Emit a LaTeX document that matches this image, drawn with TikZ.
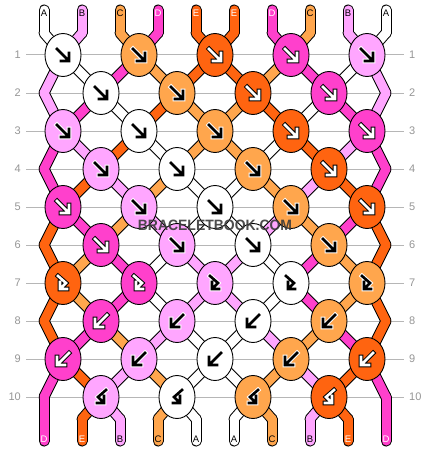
\documentclass[tikz,border=0pt]{standalone}
\usepackage{fontspec}
\setmainfont{Liberation Sans}
\usetikzlibrary{shapes.geometric}
\definecolor{stA}{RGB}{255,255,255}
\definecolor{stB}{RGB}{255,166,255}
\definecolor{stC}{RGB}{255,166,77}
\definecolor{stD}{RGB}{255,64,204}
\definecolor{stE}{RGB}{255,100,16}
\colorlet{giA}{black}\colorlet{giB}{black}\colorlet{giC}{black}\colorlet{giD}{white}\colorlet{giE}{white}
\colorlet{goA}{white}\colorlet{goB}{white}\colorlet{goC}{white}\colorlet{goD}{black}\colorlet{goE}{black}
\definecolor{rowgray}{RGB}{182,182,182}
\definecolor{labgray}{RGB}{150,150,150}
\definecolor{wmgray}{RGB}{58,58,58}
% one strand segment: #1 pass (0 outline, 1 colour), #2 colour letter, #3 from, #4 to
\newcommand\seg[4]{\ifnum#1=0\relax
  \draw[line width=11pt,draw=black,line cap=round,line join=round] (#3) -- (#4);%
  \else
  \draw[line width=9pt,draw=st#2,line cap=round,line join=round] (#3) -- (#4);%
  \fi}
% segments leaving row #2 towards row #2+1
\newcommand\srow[3]{\foreach \c [count=\p from 0] in {#3} {%
  \pgfmathtruncatemacro\nr{#2+1}\seg{#1}{\c}{q-#2-\p}{q-\nr-\p}}}
% coordinates of a row
\newcommand\qrow[3]{\foreach \xx [count=\p from 0] in {#3} {\coordinate (q-#1-\p) at (\xx,#2);}}
% knots: #1 row, #2 first x, #3 y, #4 colours, #5 glyph pic
\newcommand\krow[5]{\foreach \c [count=\j from 0] in {#4} {%
  \pgfmathsetmacro\kx{#2+76*\j}%
  \node[knot,fill=st\c] (k-#1-\j) at (\kx,#3) {};%
  \def\gI{gi\c}\def\gO{go\c}%
  \pic at (k-#1-\j) {#5};}}
\tikzset{
  glo/.style={line width=4.6pt,draw=\gO,line cap=rect,line join=miter},
  gli/.style={line width=2.6pt,draw=\gI,line cap=rect,line join=miter},
  pics/gf/.style={code={
    \draw[glo] (-6,-6)--(5,5) (6,-2)--(6,6)--(-2,6);
    \draw[gli] (-6,-6)--(5,5) (6,-2)--(6,6)--(-2,6);}},
  pics/gb/.style={code={
    \draw[glo] (6,-6)--(-5,5) (-6,-2)--(-6,6)--(2,6);
    \draw[gli] (6,-6)--(-5,5) (-6,-2)--(-6,6)--(2,6);}},
  pics/gfb/.style={code={
    \draw[glo] (-5,-7)--(3,0)--(-2,5) (-3,-1)--(-3,6)--(4,6);
    \draw[gli] (-5,-7)--(3,0)--(-2,5) (-3,-1)--(-3,6)--(4,6);}},
  pics/gbf/.style={code={
    \draw[glo] (5,-7)--(-3,0)--(2,5) (3,-1)--(3,6)--(-4,6);
    \draw[gli] (5,-7)--(-3,0)--(2,5) (3,-1)--(3,6)--(-4,6);}},
}
\begin{document}
\begin{tikzpicture}[x=1pt,y=-1pt,
  knot/.style={ellipse,draw=black,line width=0.9pt,minimum width=36pt,minimum height=43pt,inner sep=0pt},
  rowline/.style={draw=rowgray,line width=1pt},
  rowlab/.style={text=labgray,font=\fontsize{11}{11}\selectfont,inner sep=0pt},
  stublab/.style={font=\fontsize{9.5}{9.5}\selectfont,inner sep=0pt},
  wm/.style={font=\fontsize{15}{15}\selectfont\bfseries,inner sep=0pt}]
\useasboundingbox (0,0) rectangle (430,452);
\fill[white] (0,0) rectangle (430,452);
% row guide lines and numbers
\foreach \r in {1,...,10} {
  \pgfmathsetmacro\ry{55+38*(\r-1)}
  \draw[rowline] (26,\ry) -- (404,\ry);
  \node[rowlab,anchor=east] (rl-\r) at (21,\ry) {\r};
  \node[rowlab,anchor=west] (rr-\r) at (409,\ry) {\r};
}
% strand coordinates
\foreach \p in {0,...,9} {
  \pgfmathsetmacro\sx{44+38*\p}
  \coordinate (t-\p) at (\sx,10);
  \coordinate (q-0-\p) at (\sx,33);
  \coordinate (q-11-\p) at (\sx,419);
  \coordinate (b-\p) at (\sx,441);
}
\qrow{1}{55}{63,63,139,139,215,215,291,291,367,367}
\qrow{2}{93}{44,101,101,177,177,253,253,329,329,386}
\qrow{3}{131}{63,63,139,139,215,215,291,291,367,367}
\qrow{4}{169}{44,101,101,177,177,253,253,329,329,386}
\qrow{5}{207}{63,63,139,139,215,215,291,291,367,367}
\qrow{6}{245}{44,101,101,177,177,253,253,329,329,386}
\qrow{7}{283}{63,63,139,139,215,215,291,291,367,367}
\qrow{8}{321}{44,101,101,177,177,253,253,329,329,386}
\qrow{9}{359}{63,63,139,139,215,215,291,291,367,367}
\qrow{10}{397}{44,101,101,177,177,253,253,329,329,386}
% strands
\foreach \pass in {0,1} {
  \foreach \c [count=\p from 0] in {A,B,C,D,E,E,D,C,B,A} {\seg{\pass}{\c}{t-\p}{q-0-\p}}
  \srow{\pass}{0}{A,B,C,D,E,E,D,C,B,A}
  \srow{\pass}{1}{B,A,D,C,E,E,C,D,A,B}
  \srow{\pass}{2}{B,D,A,E,C,C,E,A,D,B}
  \srow{\pass}{3}{D,B,E,A,C,C,A,E,B,D}
  \srow{\pass}{4}{D,E,B,C,A,A,C,B,E,D}
  \srow{\pass}{5}{E,D,C,B,A,A,B,C,D,E}
  \srow{\pass}{6}{E,C,D,A,B,B,A,D,C,E}
  \srow{\pass}{7}{E,C,D,A,B,B,A,D,C,E}
  \srow{\pass}{8}{E,D,C,B,A,A,B,C,D,E}
  \srow{\pass}{9}{D,E,B,C,A,A,C,B,E,D}
  \srow{\pass}{10}{D,E,B,C,A,A,C,B,E,D}
  \foreach \c [count=\p from 0] in {D,E,B,C,A,A,C,B,E,D} {\seg{\pass}{\c}{q-11-\p}{b-\p}}
}
% stub labels
\foreach \c [count=\p from 0] in {A,B,C,D,E,E,D,C,B,A} {
  \node[stublab,text=gi\c] (tl-\p) at (44+38*\p,13) {\c};}
\foreach \c [count=\p from 0] in {D,E,B,C,A,A,C,B,E,D} {
  \node[stublab,text=gi\c] (bl-\p) at (44+38*\p,439.5) {\c};}
% knots
\krow{1}{63}{55}{A,C,E,D,B}{gf}
\krow{2}{101}{93}{A,C,E,D}{gf}
\krow{3}{63}{131}{B,A,C,E,D}{gf}
\krow{4}{101}{169}{B,A,C,E}{gf}
\krow{5}{63}{207}{D,B,A,C,E}{gf}
\krow{6}{101}{245}{D,B,A,C}{gf}
\krow{7}{63}{283}{E,D,B,A,C}{gfb}
\krow{8}{101}{321}{D,B,A,C}{gb}
\krow{9}{63}{359}{D,B,A,C,E}{gb}
\krow{10}{101}{397}{B,A,C,E}{gbf}
% watermark
\node[wm,text=wmgray,opacity=0.9] (wm) at (215,225) {\scalebox{0.93}[1]{BRACELETBOOK.COM}};
\end{tikzpicture}
\end{document}
